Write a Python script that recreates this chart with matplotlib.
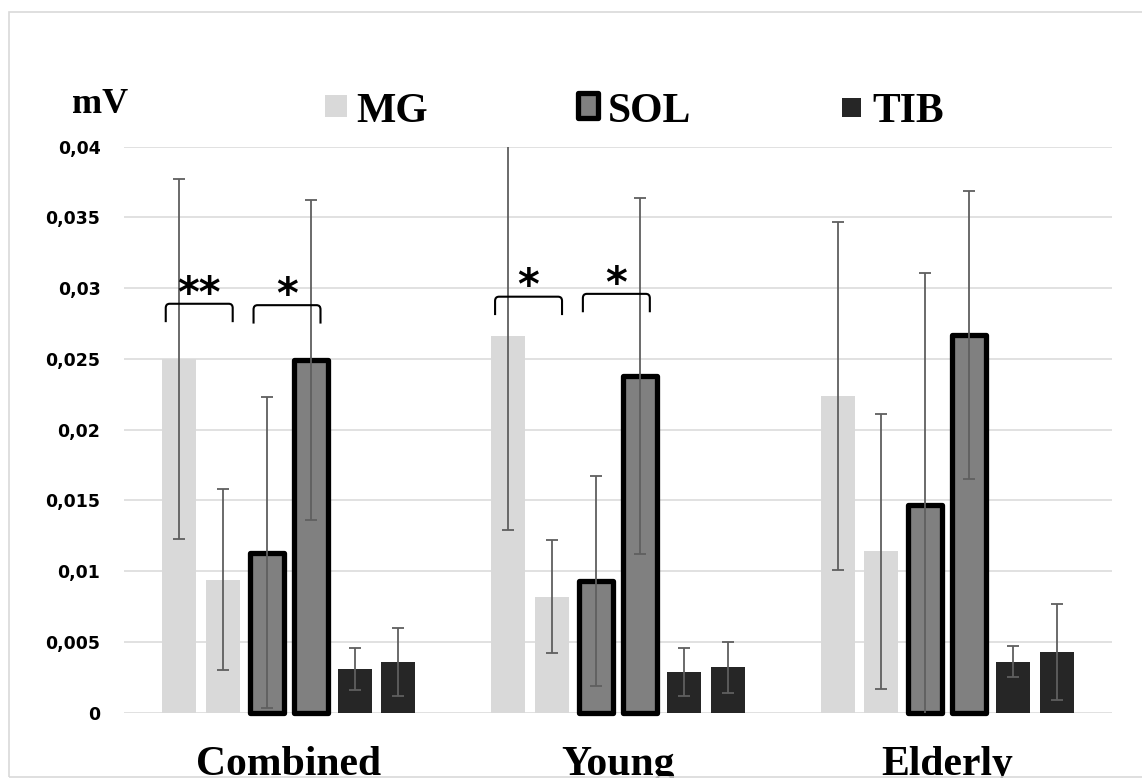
import numpy as np
import matplotlib
matplotlib.use("Agg")
import matplotlib.pyplot as plt
from matplotlib.patches import Rectangle, PathPatch
from matplotlib.path import Path
import matplotlib.transforms as mtransforms

# Gruplar ve kaslar
categories = ["Combined", "Young", "Elderly"]
legend_labels = ["MG", "SOL", "TIB"]

# Her kas için iki çubuk (ortalama, SD) - mV
mg_a = [0.0250, 0.0266, 0.0224]
mg_a_sd = [0.0127, 0.0137, 0.0123]
mg_b = [0.0094, 0.0082, 0.0114]
mg_b_sd = [0.0064, 0.0040, 0.0097]
sol_a = [0.0113, 0.0093, 0.0147]
sol_a_sd = [0.0110, 0.0074, 0.0164]
sol_b = [0.0249, 0.0238, 0.0267]
sol_b_sd = [0.0113, 0.0126, 0.0102]
tib_a = [0.0031, 0.0029, 0.0036]
tib_a_sd = [0.0015, 0.0017, 0.0011]
tib_b = [0.0036, 0.0032, 0.0043]
tib_b_sd = [0.0024, 0.0018, 0.0034]

yticks = [0, 0.005, 0.01, 0.015, 0.02, 0.025, 0.03, 0.035, 0.04]

# anlamlılık parantezleri: (grup, çubuk i, çubuk j, y, etiket)
brackets = [(0, 0, 1, 0.0289, "**"), (0, 2, 3, 0.0288, "*"),
            (1, 0, 1, 0.0294, "*"), (1, 2, 3, 0.0296, "*")]

W, H = 1142, 778
fig = plt.figure(figsize=(W / 100, H / 100), dpi=100)
ax = fig.add_axes([124 / W, 1 - 712.7 / H, 988 / W, (712.7 - 146.7) / H])

x = np.arange(len(categories))
slot = 0.1333
width = 0.1033
offsets = (np.arange(6) - 2.5) * slot

bars = [(mg_a, mg_a_sd), (mg_b, mg_b_sd), (sol_a, sol_a_sd),
        (sol_b, sol_b_sd), (tib_a, tib_a_sd), (tib_b, tib_b_sd)]
colors = ["#d9d9d9", "#d9d9d9", "#808080", "#808080", "#262626", "#262626"]

for k, (vals, sd) in enumerate(bars):
    xs = x + offsets[k]
    if k in (2, 3):
        ax.bar(xs, vals, width, color=colors[k], edgecolor="black",
               linewidth=3.8, joinstyle="round", zorder=3, clip_on=False)
    else:
        ax.bar(xs, vals, width, color=colors[k], linewidth=0, zorder=3)
    ax.errorbar(xs, vals, yerr=sd, fmt="none", ecolor="#5f5f5f",
                elinewidth=1.3, capsize=4, capthick=1.3, zorder=4)

ax.set_xlim(-0.5, 2.5)
ax.set_ylim(0, 0.04)
ax.set_yticks(yticks)
ax.set_yticklabels([("%g" % t).replace(".", ",") for t in yticks],
                   fontfamily="DejaVu Sans", fontweight="bold", fontsize=12.5)
ax.set_xticks([])
ax.tick_params(axis="y", length=0, pad=17)
ax.yaxis.grid(True, color="#d9d9d9", linewidth=1.1)
ax.set_axisbelow(True)
for s in ax.spines.values():
    s.set_visible(False)

# parantezler ve yıldızlar
leg = 0.0013
rx, ry = 0.012, 0.0003
for g, i, j, y, lab in brackets:
    x0 = g + offsets[i] - 0.04
    x1 = g + offsets[j] + 0.03
    verts = [(x0, y - leg), (x0, y - ry), (x0, y), (x0 + rx, y),
             (x1 - rx, y), (x1, y), (x1, y - ry), (x1, y - leg)]
    codes = [Path.MOVETO, Path.LINETO, Path.CURVE3, Path.CURVE3,
             Path.LINETO, Path.CURVE3, Path.CURVE3, Path.LINETO]
    ax.add_patch(PathPatch(Path(verts, codes), fill=False, edgecolor="black",
                           linewidth=1.5, zorder=5))
    ax.annotate(lab, ((x0 + x1) / 2, y), xytext=(0, -2), textcoords="offset points",
                ha="center", va="baseline", fontsize=30, fontweight="bold",
                fontfamily="DejaVu Sans", zorder=6)

# grup adları
trans = mtransforms.blended_transform_factory(ax.transData, fig.transFigure)
for i, c in enumerate(categories):
    ax.text(x[i], 1 - 775 / H, c, transform=trans, ha="center", va="baseline",
            fontsize=30, fontweight="bold", fontfamily="Liberation Serif",
            clip_on=False)

# birim
fig.text(128 / W, 1 - 113 / H, "mV", ha="right", va="baseline", fontsize=26,
         fontweight="bold", fontfamily="Liberation Serif")

# lejant (elle)
def box(x0, y0, x1, y1, **kw):
    fig.patches.append(Rectangle((x0 / W, 1 - y1 / H), (x1 - x0) / W, (y1 - y0) / H,
                                 transform=fig.transFigure, **kw))

box(325, 95, 347, 117, facecolor=colors[0], linewidth=0)
box(577.6, 92.6, 598, 118.4, facecolor=colors[2], edgecolor="black",
    linewidth=3.8, joinstyle="round")
box(842, 98, 861, 117, facecolor=colors[4], linewidth=0)
for lx, lab in zip([356, 608, 872], legend_labels):
    fig.text(lx / W, 1 - 121.5 / H, lab, ha="left", va="baseline", fontsize=30,
             fontweight="bold", fontfamily="Liberation Serif")

# grafik çerçevesi
fig.patches.append(Rectangle((9 / W, 1 / H), 1.2, (777 - 12) / H, transform=fig.transFigure,
                             fill=False, edgecolor="#d9d9d9", linewidth=1.2))

fig.savefig("out.png", dpi=100)
